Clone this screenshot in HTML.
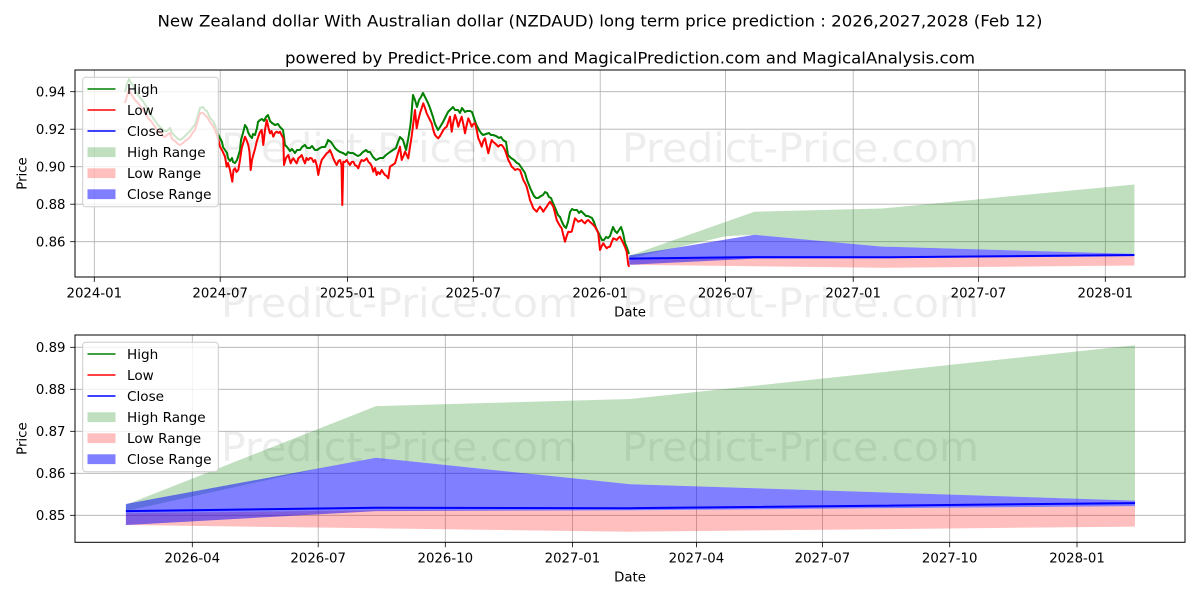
<!DOCTYPE html>
<html>
<head>
<meta charset="utf-8">
<style>
  html,body{margin:0;padding:0;background:#fff;}
  svg{display:block;}
  text{font-family:"DejaVu Sans","Liberation Sans",sans-serif;fill:#000;}
</style>
</head>
<body>
<svg width="1200" height="600" viewBox="0 0 1200 600" xmlns="http://www.w3.org/2000/svg">
  <rect x="0" y="0" width="1200" height="600" fill="#fff"/>

  <!-- Titles -->
  <text x="600" y="26.5" font-size="16.2" text-anchor="middle" textLength="885" lengthAdjust="spacingAndGlyphs">New Zealand dollar With Australian dollar (NZDAUD) long term price prediction : 2026,2027,2028 (Feb 12)</text>
  <text x="630" y="63.5" font-size="16.2" text-anchor="middle" textLength="690" lengthAdjust="spacingAndGlyphs">powered by Predict-Price.com and MagicalPrediction.com and MagicalAnalysis.com</text>

  <!-- ================= TOP CHART ================= -->
  <g stroke="#b0b0b0" stroke-width="0.8">
    <line x1="94.3" y1="70" x2="94.3" y2="277"/>
    <line x1="220.2" y1="70" x2="220.2" y2="277"/>
    <line x1="347.6" y1="70" x2="347.6" y2="277"/>
    <line x1="473.3" y1="70" x2="473.3" y2="277"/>
    <line x1="600.2" y1="70" x2="600.2" y2="277"/>
    <line x1="725.6" y1="70" x2="725.6" y2="277"/>
    <line x1="853.2" y1="70" x2="853.2" y2="277"/>
    <line x1="978.4" y1="70" x2="978.4" y2="277"/>
    <line x1="1105.3" y1="70" x2="1105.3" y2="277"/>
    <line x1="75" y1="91.7" x2="1185" y2="91.7"/>
    <line x1="75" y1="129.2" x2="1185" y2="129.2"/>
    <line x1="75" y1="166.7" x2="1185" y2="166.7"/>
    <line x1="75" y1="204.2" x2="1185" y2="204.2"/>
    <line x1="75" y1="241.7" x2="1185" y2="241.7"/>
  </g>

  <!-- prediction fills top -->
  <polygon fill="#008000" fill-opacity="0.25" points="629.2,255.8 754.5,211.7 881.8,208.5 1134.4,184.5 1134.4,253.9 881.8,246.6 754.5,234.8 725.4,236.2 629.2,258.6"/>
  <polygon fill="#ff0000" fill-opacity="0.25" points="629.2,259.5 754.5,258.2 881.8,258.2 1134.4,256.3 1134.4,265.5 881.8,267.8 754.5,266.3 629.2,264.8"/>
  <polygon fill="#0000ff" fill-opacity="0.5" points="629.2,255.4 754.5,234.8 881.8,246.6 1134.4,253.9 1134.4,256.3 881.8,258.2 754.5,258.6 629.2,264.8"/>

  <!-- watermarks -->
  <g fill="#000" fill-opacity="0.07" font-size="40">
    <text x="221" y="162" textLength="357" lengthAdjust="spacingAndGlyphs">Predict-Price.com</text>
    <text x="622" y="162" textLength="357" lengthAdjust="spacingAndGlyphs">Predict-Price.com</text>
    <text x="221" y="317" textLength="357" lengthAdjust="spacingAndGlyphs">Predict-Price.com</text>
    <text x="622" y="317" textLength="357" lengthAdjust="spacingAndGlyphs">Predict-Price.com</text>
    <text x="221" y="461" textLength="357" lengthAdjust="spacingAndGlyphs">Predict-Price.com</text>
    <text x="622" y="461" textLength="357" lengthAdjust="spacingAndGlyphs">Predict-Price.com</text>
  </g>

  <!-- High (green) -->
  <polyline fill="none" stroke="#008000" stroke-width="2" stroke-linejoin="round" points="125,92 127,84 129,79 131,83 133,85 135,90 138,95 141,99 143,101 146,106 148,111 151,115 153,118 156,122 158,125 161,128 163,130 165,131 167,131 170,128 172,133 175,136 178,139 180,140 183,138 185,136 188,133 190,131 193,127 195,125 198,115 200,108 203,107 205,110 207,111 210,118 213,121 215,125 218,134 220,138 222,142 223,147 225,150 227,153 228,158 230,161 232,158 233,162 235,163 237,160 238,157 240,150 241,140 243,133 245,125 247,128 248,132 250,136 252,138 253,134 255,135 257,128 258,122 260,120 262,119 264,121 266,117 268,115 270,121 272,123 275,125 278,124 280,127 283,130 284,137 285,145 287,147 290,151 292,149 295,153 297,150 300,150 302,147 305,145 307,148 310,148 312,146 315,150 317,150 320,148 322,147 325,147 327,143 328,140 331,142 333,145 335,148 337,150 340,152 343,153 346,155 348,152 350,153 353,153 356,155 358,156 360,155 363,152 366,150 368,152 370,152 373,157 376,160 380,158 383,158 386,155 390,152 393,150 396,148 398,142 400,137 403,140 406,150 408,140 410,128 411,120 413,95 415,100 417,107 419,100 421,97 423,93 425,97 428,103 430,108 433,117 435,124 438,130 440,127 443,122 445,118 448,112 450,110 453,107 455,110 458,110 460,113 462,108 465,112 467,111 470,111 472,112 474,118 476,124 479,130 481,133 483,135 486,134 489,133 491,135 493,135 496,136 499,138 501,137 503,140 506,142 508,155 511,158 514,160 517,163 519,164 521,167 523,170 525,173 527,180 529,185 531,190 534,196 536,198 538,198 541,196 543,195 545,192 547,193 549,197 551,198 553,203 556,210 558,215 560,217 562,222 564,226 566,228 568,222 570,212 572,209 574,210 577,210 579,213 581,211 583,213 586,216 588,216 590,217 592,218 594,222 596,228 598,232 600,236 602,240 604,240 606,237 608,238 610,236 612,230 613,227 615,231 617,233 619,230 621,227 623,233 625,243 627,248 629,254"/>

  <!-- Low (red) -->
  <polyline fill="none" stroke="#ff0000" stroke-width="2" stroke-linejoin="round" points="125,103 127,96 129,90 131,94 133,97 135,100 138,103 141,107 143,110 146,114 148,118 151,121 153,124 156,128 158,131 161,133 163,136 165,137 167,135 170,133 172,139 175,141 178,144 180,145 183,143 185,141 188,139 190,137 193,132 195,130 198,120 200,113 203,113 205,115 207,117 210,122 213,126 215,130 218,138 220,146.7 222,150 225,156.7 226.7,166.7 228,163 230,170 232.3,181.7 233.5,170 235,168.3 236.5,172 238.3,170 240,160 241.7,148.3 243.5,142 245,136.7 246.5,140 248.3,145 249.5,152 250.7,170 252,160 253.3,155 255,149 256.7,141.7 258.5,136 260,132 261.7,130 263.3,145 265,130 266.7,120 268.5,128 270,133.3 271.5,131 273.3,136.7 275,133 276.7,131.7 278.5,133 280,131.7 281.5,135 283.3,138.3 284,165 286,158 288.3,155 290.7,163.3 292,160 293.3,158.3 295,161 296.7,163.3 298.5,158 300,157 301.7,155 303.5,160 305,163.3 306.5,158 308.3,160 310,158 311.7,158.3 313.5,162 315,160 316.7,165 318.3,175 320,166 321.7,160 324,157 326.7,153.3 328.5,152 330,150 331.7,154 333.3,158.3 335,162 336.7,165 338.5,161 340,160 341.5,165 342.3,205 343.3,161.7 345,162 346.7,160 348.5,163 350,165 351.7,162 353.3,161.7 355,165 356.7,166 358.3,168.3 360,163 361.7,160 363.5,161 365,160 366.7,158.3 368.5,162 370,163.3 371.7,166 373.3,171.7 375,168 376.7,175 378,172 380,174 381.7,170 383.5,173 385,175 386.7,176 388.3,178.3 390,166.7 392.5,165 395,163.3 397.5,155 400,146.7 401.7,160 403.5,156 405,151.7 406.7,155 408.3,158.3 410,146.7 411.7,136 413.3,123.3 415,110 416.7,128.3 418.3,120 420,113.3 421.7,108 423.3,103.3 425,108 426.7,113.3 428.5,117 430,120 431.7,123.3 433.3,130 435,135 436.7,137 438.3,138.3 440,136 441.7,133 443.3,130 445,128 446.7,126.7 448.3,122 450,116.7 451.7,131.7 453.3,122 455,115 456.7,120 458.3,126.7 460,121 461.7,116.7 463.5,125 465,133.3 466.7,125 468.3,118.3 470,122 471.7,126.7 473.3,124 475,123.3 476.7,130 478.3,138.3 480,142 481.7,146.7 483.3,141 485,138.3 486.7,146 488.3,153.3 490,146 491.7,140 493.3,142 495,143.3 496.7,145 498.3,146.7 500,145 501.7,145 503.3,147 505,150 506.7,155 508.3,160 510,163 511.7,166.7 513.3,168 515,170 517.5,169 520,170 521.7,175 523.3,180 525,183 526.7,186.7 528.3,193 530,200 531.7,204 533.3,208.3 535,210 536.7,211.7 538.3,209 540,206.7 541.7,209 543.3,211.7 545,209 546.7,206.7 548.3,204 550,201.7 551.7,204 553.3,206.7 555,213 556.7,220 558.3,223 560,226 561.7,228.3 563.3,235 565,241.7 566.7,236 568.3,231.7 570,232 571.7,231.7 573.3,225 575,218.3 576.7,220 578.3,221.7 580,221 581.7,220 583.3,222 585,223.3 586.7,221 588.3,220 590,222 591.7,223.3 593.3,225 595,226.7 596.7,230 598.3,233.3 600,250 601.7,246 603.3,243.3 605,246 606.7,248.3 608.3,247 610,246.7 611.7,242 613.3,238.3 615,239 616.7,240 618.3,238 620,236.7 621.7,240 623.3,243.3 625,247 626.7,251.7 628.3,265 629.3,266.7"/>

  <!-- Close line top -->
  <polyline fill="none" stroke="#0000ff" stroke-width="2" points="629.2,258.6 754.5,257.1 881.8,257.3 1134.4,255.0"/>

  <!-- top axes spines -->
  <rect x="75" y="70" width="1110" height="207" fill="none" stroke="#000" stroke-width="1"/>
  <!-- ticks -->
  <g stroke="#000" stroke-width="0.8">
    <line x1="70.1" y1="91.7" x2="75" y2="91.7"/>
    <line x1="70.1" y1="129.2" x2="75" y2="129.2"/>
    <line x1="70.1" y1="166.7" x2="75" y2="166.7"/>
    <line x1="70.1" y1="204.2" x2="75" y2="204.2"/>
    <line x1="70.1" y1="241.7" x2="75" y2="241.7"/>
    <line x1="94.3" y1="277" x2="94.3" y2="281.9"/>
    <line x1="220.2" y1="277" x2="220.2" y2="281.9"/>
    <line x1="347.6" y1="277" x2="347.6" y2="281.9"/>
    <line x1="473.3" y1="277" x2="473.3" y2="281.9"/>
    <line x1="600.2" y1="277" x2="600.2" y2="281.9"/>
    <line x1="725.6" y1="277" x2="725.6" y2="281.9"/>
    <line x1="853.2" y1="277" x2="853.2" y2="281.9"/>
    <line x1="978.4" y1="277" x2="978.4" y2="281.9"/>
    <line x1="1105.3" y1="277" x2="1105.3" y2="281.9"/>
  </g>
  <g font-size="13.3" text-anchor="end">
    <text x="65.5" y="96.5">0.94</text>
    <text x="65.5" y="134">0.92</text>
    <text x="65.5" y="171.5">0.90</text>
    <text x="65.5" y="209">0.88</text>
    <text x="65.5" y="246.5">0.86</text>
  </g>
  <g font-size="13.3" text-anchor="middle">
    <text x="94.3" y="297.5">2024-01</text>
    <text x="220.2" y="297.5">2024-07</text>
    <text x="347.6" y="297.5">2025-01</text>
    <text x="473.3" y="297.5">2025-07</text>
    <text x="600.2" y="297.5">2026-01</text>
    <text x="725.6" y="297.5">2026-07</text>
    <text x="853.2" y="297.5">2027-01</text>
    <text x="978.4" y="297.5">2027-07</text>
    <text x="1105.3" y="297.5">2028-01</text>
    <text x="630" y="316.5">Date</text>
  </g>
  <text x="0" y="0" font-size="13.3" text-anchor="middle" transform="translate(26.5,173.5) rotate(-90)">Price</text>

  <!-- top legend -->
  <rect x="82.7" y="77.3" width="135.6" height="129.4" rx="3" fill="#fff" fill-opacity="0.8" stroke="#cccccc" stroke-width="1"/>
  <line x1="87.5" y1="89" x2="115.5" y2="89" stroke="#008000" stroke-width="1.5"/>
  <line x1="87.5" y1="110" x2="115.5" y2="110" stroke="#ff0000" stroke-width="1.5"/>
  <line x1="87.5" y1="131" x2="115.5" y2="131" stroke="#0000ff" stroke-width="1.5"/>
  <rect x="87.5" y="147.3" width="28" height="9.8" fill="#008000" fill-opacity="0.25"/>
  <rect x="87.5" y="168.3" width="28" height="9.8" fill="#ff0000" fill-opacity="0.25"/>
  <rect x="87.5" y="189.3" width="28" height="9.8" fill="#0000ff" fill-opacity="0.5"/>
  <g font-size="13.6">
    <text x="127" y="93.8">High</text>
    <text x="127" y="114.8">Low</text>
    <text x="127" y="135.8">Close</text>
    <text x="127" y="156.8">High Range</text>
    <text x="127" y="177.8">Low Range</text>
    <text x="127" y="198.8">Close Range</text>
  </g>

  <!-- ================= BOTTOM CHART ================= -->
  <g stroke="#b0b0b0" stroke-width="0.8">
    <line x1="192.3" y1="335" x2="192.3" y2="542.3"/>
    <line x1="318.2" y1="335" x2="318.2" y2="542.3"/>
    <line x1="445.3" y1="335" x2="445.3" y2="542.3"/>
    <line x1="572.4" y1="335" x2="572.4" y2="542.3"/>
    <line x1="696.4" y1="335" x2="696.4" y2="542.3"/>
    <line x1="822.4" y1="335" x2="822.4" y2="542.3"/>
    <line x1="949.7" y1="335" x2="949.7" y2="542.3"/>
    <line x1="1077" y1="335" x2="1077" y2="542.3"/>
    <line x1="75" y1="347.3" x2="1185" y2="347.3"/>
    <line x1="75" y1="389.3" x2="1185" y2="389.3"/>
    <line x1="75" y1="431.3" x2="1185" y2="431.3"/>
    <line x1="75" y1="473.3" x2="1185" y2="473.3"/>
    <line x1="75" y1="515.3" x2="1185" y2="515.3"/>
  </g>

  <polygon fill="#008000" fill-opacity="0.25" points="125.9,504.8 376.1,406.1 630.5,399.0 1135,345.2 1135,500.6 630.5,484.2 376.1,457.8 318.1,468.7 125.9,511.1"/>
  <polygon fill="#ff0000" fill-opacity="0.25" points="125.9,513.2 376.1,510.3 630.5,510.3 1135,506.1 1135,526.6 630.5,531.7 376.1,528.3 125.9,525.0"/>
  <polygon fill="#0000ff" fill-opacity="0.5" points="125.9,504.0 376.1,457.8 630.5,484.2 1135,500.6 1135,506.1 630.5,510.3 376.1,511.1 125.9,525.0"/>
  <polyline fill="none" stroke="#0000ff" stroke-width="2" points="125.9,511.1 376.1,507.7 630.5,508.2 1135,503.1"/>

  <rect x="75" y="335" width="1110" height="207.3" fill="none" stroke="#000" stroke-width="1"/>
  <g stroke="#000" stroke-width="0.8">
    <line x1="70.1" y1="347.3" x2="75" y2="347.3"/>
    <line x1="70.1" y1="389.3" x2="75" y2="389.3"/>
    <line x1="70.1" y1="431.3" x2="75" y2="431.3"/>
    <line x1="70.1" y1="473.3" x2="75" y2="473.3"/>
    <line x1="70.1" y1="515.3" x2="75" y2="515.3"/>
    <line x1="192.3" y1="542.3" x2="192.3" y2="547.2"/>
    <line x1="318.2" y1="542.3" x2="318.2" y2="547.2"/>
    <line x1="445.3" y1="542.3" x2="445.3" y2="547.2"/>
    <line x1="572.4" y1="542.3" x2="572.4" y2="547.2"/>
    <line x1="696.4" y1="542.3" x2="696.4" y2="547.2"/>
    <line x1="822.4" y1="542.3" x2="822.4" y2="547.2"/>
    <line x1="949.7" y1="542.3" x2="949.7" y2="547.2"/>
    <line x1="1077" y1="542.3" x2="1077" y2="547.2"/>
  </g>
  <g font-size="13.3" text-anchor="end">
    <text x="65.5" y="352.1">0.89</text>
    <text x="65.5" y="394.1">0.88</text>
    <text x="65.5" y="436.1">0.87</text>
    <text x="65.5" y="478.1">0.86</text>
    <text x="65.5" y="520.1">0.85</text>
  </g>
  <g font-size="13.3" text-anchor="middle">
    <text x="192.3" y="562.5">2026-04</text>
    <text x="318.2" y="562.5">2026-07</text>
    <text x="445.3" y="562.5">2026-10</text>
    <text x="572.4" y="562.5">2027-01</text>
    <text x="696.4" y="562.5">2027-04</text>
    <text x="822.4" y="562.5">2027-07</text>
    <text x="949.7" y="562.5">2027-10</text>
    <text x="1077" y="562.5">2028-01</text>
    <text x="630" y="581.5">Date</text>
  </g>
  <text x="0" y="0" font-size="13.3" text-anchor="middle" transform="translate(26.5,438.6) rotate(-90)">Price</text>

  <!-- bottom legend -->
  <rect x="82.7" y="342.3" width="135.6" height="129.4" rx="3" fill="#fff" fill-opacity="0.8" stroke="#cccccc" stroke-width="1"/>
  <line x1="87.5" y1="354" x2="115.5" y2="354" stroke="#008000" stroke-width="1.5"/>
  <line x1="87.5" y1="375" x2="115.5" y2="375" stroke="#ff0000" stroke-width="1.5"/>
  <line x1="87.5" y1="396" x2="115.5" y2="396" stroke="#0000ff" stroke-width="1.5"/>
  <rect x="87.5" y="412.3" width="28" height="9.8" fill="#008000" fill-opacity="0.25"/>
  <rect x="87.5" y="433.3" width="28" height="9.8" fill="#ff0000" fill-opacity="0.25"/>
  <rect x="87.5" y="454.3" width="28" height="9.8" fill="#0000ff" fill-opacity="0.5"/>
  <g font-size="13.6">
    <text x="127" y="358.8">High</text>
    <text x="127" y="379.8">Low</text>
    <text x="127" y="400.8">Close</text>
    <text x="127" y="421.8">High Range</text>
    <text x="127" y="442.8">Low Range</text>
    <text x="127" y="463.8">Close Range</text>
  </g>
</svg>
</body>
</html>
